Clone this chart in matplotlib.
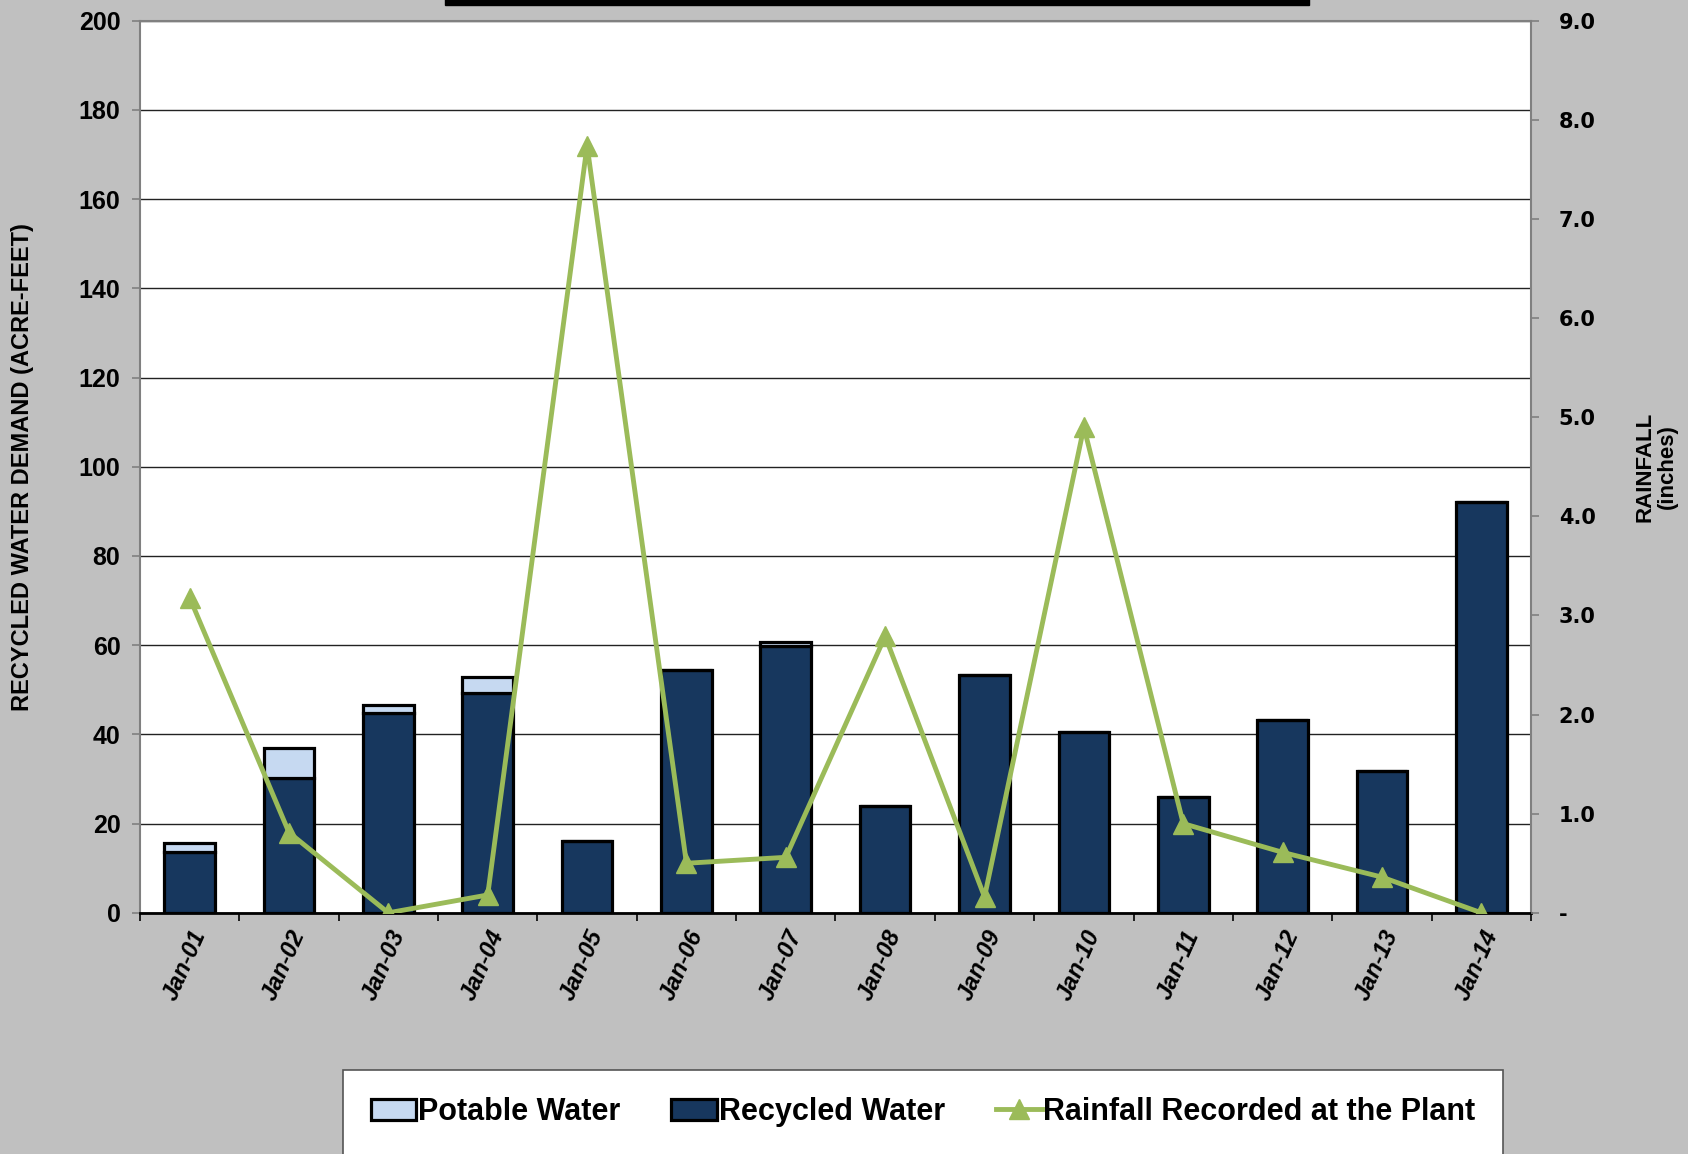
"""
Recycled water demand vs. rainfall, January of each year.
"""

import matplotlib

matplotlib.use("Agg")

import matplotlib.pyplot as plt
from matplotlib.lines import Line2D
from matplotlib.patches import Patch, Rectangle
from matplotlib.ticker import FixedLocator, FuncFormatter

months = ["Jan-01", "Jan-02", "Jan-03", "Jan-04", "Jan-05", "Jan-06", "Jan-07",
          "Jan-08", "Jan-09", "Jan-10", "Jan-11", "Jan-12", "Jan-13", "Jan-14"]
recycled = [13.7, 30.2, 44.9, 49.2, 16.2, 54.5, 59.8,
            23.9, 53.3, 40.5, 26.0, 43.2, 31.8, 92.2]
potable = [2.0, 6.7, 1.7, 3.6, 0.0, 0.0, 1.0,
           0.0, 0.0, 0.0, 0.0, 0.0, 0.0, 0.0]
rainfall = [3.18, 0.81, 0.0, 0.18, 7.74, 0.5, 0.56,
            2.79, 0.16, 4.9, 0.9, 0.61, 0.36, 0.0]

NAVY = "#17375E"
LIGHT = "#C6D9F1"
GREEN = "#9BBB59"
BG = "#C0C0C0"

plt.rcParams["font.family"] = ["Liberation Sans", "DejaVu Sans"]

fig = plt.figure(figsize=(16.88, 11.54), dpi=100, facecolor=BG)
ax = fig.add_axes([0.0829, 0.209, 0.907 - 0.0829, 0.982 - 0.209])
ax.set_facecolor("white")

# cut-off title box at the very top
fig.patches.append(Rectangle((445 / 1688, 1 - 5 / 1154), (1309 - 445) / 1688, 6 / 1154,
                             transform=fig.transFigure, facecolor="black",
                             edgecolor="black", zorder=5))

x = list(range(len(months)))
ax.bar(x, recycled, width=0.51, color=NAVY, edgecolor="black", linewidth=2.3, zorder=3)
ax.bar(x, potable, width=0.51, bottom=recycled, color=LIGHT, edgecolor="black",
       linewidth=2.3, zorder=3)

ax.set_xlim(-0.5, len(months) - 0.5)
ax.set_ylim(0, 200)
ax.set_yticks(range(0, 201, 20))
ax.yaxis.grid(True, color="#222222", linewidth=1.0)
ax.set_axisbelow(True)

ax.xaxis.set_major_locator(FixedLocator([i - 0.5 for i in range(len(months) + 1)]))
ax.xaxis.set_minor_locator(FixedLocator(x))
ax.set_xticklabels([])
ax.set_xticklabels(months, minor=True, rotation=66, ha="right", va="top",
                   rotation_mode="anchor", fontsize=17, fontweight="bold",
                   fontstyle="italic")
ax.tick_params(axis="x", which="major", length=6, width=1.2, color="black")
ax.tick_params(axis="x", which="minor", length=0, pad=10)
ax.tick_params(axis="y", length=6, width=1.2, color="#808080", labelsize=18, pad=8)
for lab in ax.get_yticklabels():
    lab.set_fontweight("bold")

for side in ["top", "right", "left"]:
    ax.spines[side].set_color("#808080")
    ax.spines[side].set_linewidth(1.5)
ax.spines["bottom"].set_color("black")
ax.spines["bottom"].set_linewidth(2.0)

ax.set_ylabel("RECYCLED WATER DEMAND (ACRE-FEET)", fontsize=17, fontweight="bold",
              labelpad=32)

ax2 = ax.twinx()
ax2.plot(x, rainfall, color=GREEN, linewidth=3.5, marker="^", markersize=14,
         markerfacecolor=GREEN, markeredgecolor=GREEN, zorder=4)
ax2.set_ylim(0, 9)
ax2.set_yticks(range(0, 10))
ax2.yaxis.set_major_formatter(FuncFormatter(lambda v, p: "-" if v == 0 else f"{v:.1f}"))
ax2.tick_params(axis="y", length=6, width=1.2, color="#808080", pad=14)
for lab in ax2.get_yticklabels():
    lab.set_fontfamily("DejaVu Sans")
    lab.set_fontweight("bold")
    lab.set_fontsize(15)
for side in ["top", "right", "left", "bottom"]:
    ax2.spines[side].set_visible(False)
ax2.set_ylabel("RAINFALL\n(inches)", fontsize=16, fontweight="bold", labelpad=28,
               linespacing=1.1)

handles = [
    Patch(facecolor=LIGHT, edgecolor="black", linewidth=2.3, label="Potable Water"),
    Patch(facecolor=NAVY, edgecolor="black", linewidth=2.3, label="Recycled Water"),
    Line2D([], [], color=GREEN, linewidth=3.5, marker="^", markersize=14,
           label="Rainfall Recorded at the Plant"),
]
leg = fig.legend(handles=handles, loc="center",
                 bbox_to_anchor=(343 / 1688, 1 - 1152 / 1154, (1503 - 343) / 1688, 80 / 1154),
                 ncol=3, mode="expand", fancybox=False, framealpha=1.0, borderaxespad=0,
                 prop={"weight": "bold", "size": 22}, handlelength=1.5,
                 handletextpad=0.05, columnspacing=1.0, borderpad=0.9)
leg.get_frame().set_edgecolor("#555555")
leg.get_frame().set_linewidth(1.2)

fig.savefig("out.png", dpi=100, facecolor=BG)
